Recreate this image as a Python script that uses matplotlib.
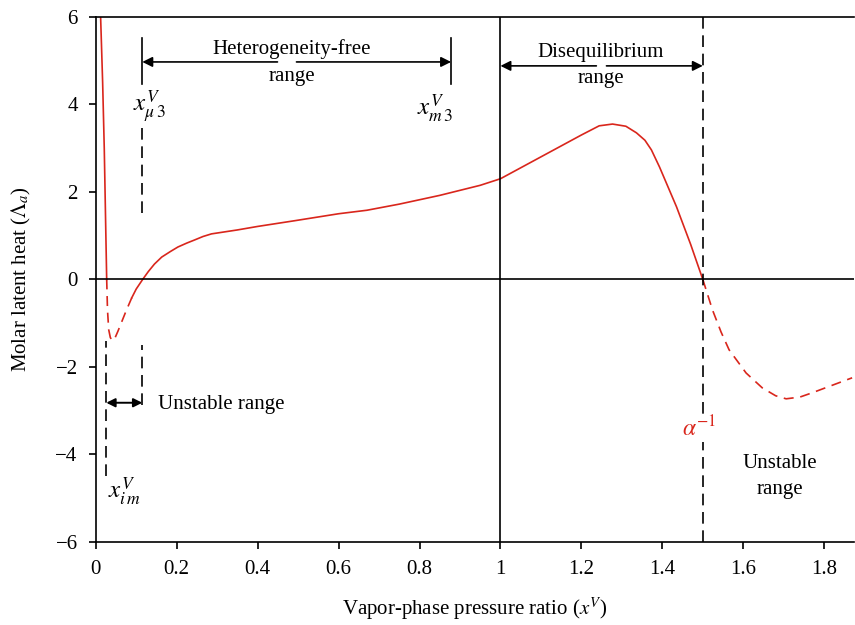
import matplotlib.pyplot as plt

plt.rcParams['font.family'] = ['Liberation Serif', 'DejaVu Serif']
plt.rcParams['mathtext.fontset'] = 'stix'

# curve pieces (x, Lambda_a)
x_left = [0.012, 0.017, 0.021, 0.023, 0.025, 0.027]
y_left = [6.0, 4.5, 3.0, 2.0, 1.0, 0.0]
x_dash1 = [0.027, 0.029, 0.032, 0.036, 0.041, 0.047, 0.055, 0.065, 0.075, 0.089]
y_dash1 = [0.0, -0.7, -1.15, -1.33, -1.4, -1.35, -1.18, -0.95, -0.72, -0.42]
x_mid = [0.089, 0.1, 0.116, 0.13, 0.145, 0.163, 0.185, 0.203, 0.225, 0.244, 0.265,
         0.286, 0.35, 0.4, 0.491, 0.6, 0.67, 0.75, 0.85, 0.95, 1.0, 1.146, 1.2,
         1.244, 1.277, 1.31, 1.336, 1.357, 1.373, 1.393, 1.435, 1.47, 1.5]
y_mid = [-0.42, -0.22, 0.0, 0.18, 0.35, 0.51, 0.64, 0.74, 0.83, 0.9, 0.98,
         1.04, 1.13, 1.21, 1.34, 1.5, 1.58, 1.72, 1.92, 2.15, 2.3, 3.03, 3.3,
         3.51, 3.55, 3.5, 3.35, 3.18, 2.96, 2.57, 1.66, 0.8, 0.0]
x_dash2 = [1.5, 1.524, 1.545, 1.565, 1.607, 1.647, 1.68, 1.706, 1.74, 1.771, 1.82, 1.869]
y_dash2 = [0.0, -0.7, -1.2, -1.61, -2.14, -2.48, -2.66, -2.73, -2.69, -2.59, -2.42, -2.25]

x_im = 0.026
x_mu3 = 0.115
x_m3 = 0.878
x_alpha = 1.5

xticks = [0, 0.2, 0.4, 0.6, 0.8, 1, 1.2, 1.4, 1.6, 1.8]
xticklabels = ['0', '0.2', '0.4', '0.6', '0.8', '1', '1.2', '1.4', '1.6', '1.8']
yticks = [-6, -4, -2, 0, 2, 4, 6]

red = '#d9261c'
fs = 15
dash = (0, (6, 4))

fig = plt.figure(figsize=(8.55, 6.25), dpi=100)
ax = fig.add_axes([0.112, 0.133, 0.887, 0.84])

ax.plot(x_left, y_left, color=red, lw=1.2)
ax.plot(x_dash1, y_dash1, color=red, lw=1.2, ls=dash)
ax.plot(x_mid, y_mid, color=red, lw=1.2)
ax.plot(x_dash2, y_dash2, color=red, lw=1.2, ls=dash)

ax.axhline(0, color='black', lw=1.2)
ax.axvline(1, color='black', lw=1.2)
ax.axvline(x_alpha, color='black', lw=1.2, ls=(0, (7, 4)))

# heterogeneity-free range
ax.plot([x_mu3, x_mu3], [4.47, 5.52], color='black', lw=1.2)
ax.plot([x_m3, x_m3], [4.47, 5.52], color='black', lw=1.2)
arr = dict(arrowstyle='-|>', color='black', lw=1.2, shrinkA=0, shrinkB=0, mutation_scale=15)
ax.annotate('', xy=(x_mu3, 4.97), xytext=(0.449, 4.97), arrowprops=arr)
ax.annotate('', xy=(x_m3, 4.97), xytext=(0.496, 4.97), arrowprops=arr)
ax.text(0.485, 4.95, 'Heterogeneity-free\nrange', ha='center', va='center',
        fontsize=fs, linespacing=1.55)

# disequilibrium range
ax.annotate('', xy=(1.0, 4.88), xytext=(1.237, 4.88), arrowprops=arr)
ax.annotate('', xy=(x_alpha, 4.88), xytext=(1.262, 4.88), arrowprops=arr)
ax.text(1.248, 4.9, 'Disequilibrium\nrange', ha='center', va='center',
        fontsize=fs, linespacing=1.5)

# markers
ax.text(x_mu3 + 0.018, 3.95, r'$x^{V}_{\mu\,3}$', ha='center', va='center', fontsize=fs + 3)
ax.text(x_m3 - 0.04, 3.9, r'$x^{V}_{m\,3}$', ha='center', va='center', fontsize=fs + 3)
ax.plot([x_mu3, x_mu3], [1.52, 3.53], color='black', lw=1.2, ls=(0, (7, 4)))

ax.plot([x_im, x_im], [-4.5, -1.4], color='black', lw=1.2, ls=(0, (7, 4)))
ax.plot([x_mu3, x_mu3], [-2.87, -1.5], color='black', lw=1.2, ls=(0, (7, 4)))
ax.annotate('', xy=(x_im, -2.82), xytext=(x_mu3, -2.82),
            arrowprops=dict(arrowstyle='<|-|>', color='black', lw=1.4,
                            shrinkA=0, shrinkB=0, mutation_scale=13))
ax.text(0.153, -2.87, 'Unstable range', ha='left', va='center', fontsize=fs)
ax.text(x_im + 0.045, -4.85, r'$x^{V}_{i\,m}$', ha='center', va='center', fontsize=fs + 3)

ax.text(1.49, -3.4, r'$\alpha^{-1}$', ha='center', va='center', color=red, fontsize=fs + 2,
        bbox=dict(facecolor='white', edgecolor='none', pad=1))
ax.text(1.69, -4.5, 'Unstable\nrange', ha='center', va='center', fontsize=fs,
        linespacing=1.5)

ax.set_xlim(0, 1.874)
ax.set_ylim(-6, 6)
ax.set_xticks(xticks)
ax.set_xticklabels(xticklabels)
ax.set_yticks(yticks)
ax.set_yticklabels(['\u22126', '\u22124', '\u22122', '0', '2', '4', '6'])
ax.tick_params(direction='out', length=5, width=1.2, labelsize=fs, pad=8)
for s in ['left', 'top', 'bottom']:
    ax.spines[s].set_linewidth(1.2)
ax.spines['right'].set_visible(False)
ax.set_xlabel(r'Vapor-phase pressure ratio ($x^{V}$)', fontsize=fs, labelpad=12)
ax.set_ylabel(r'Molar latent heat ($\Lambda_a$)', fontsize=fs, labelpad=16)

fig.savefig('out.png', dpi=100)
